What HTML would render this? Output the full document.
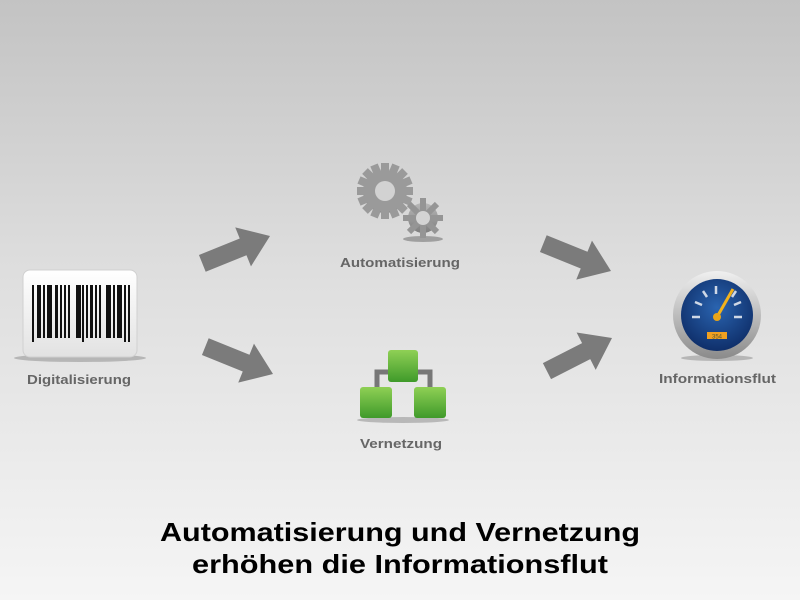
<!DOCTYPE html>
<html><head><meta charset="utf-8"><style>
html,body{margin:0;padding:0}
body{width:800px;height:600px;overflow:hidden;background:linear-gradient(#c3c3c3,#dedede 45%,#f5f5f5);font-family:"Liberation Sans",sans-serif}
</style></head><body>
<svg width="800" height="600" xmlns="http://www.w3.org/2000/svg" style="position:absolute;left:0;top:0">
<defs>
<linearGradient id="wb" x1="0" y1="0" x2="0" y2="1"><stop offset="0" stop-color="#ffffff"/><stop offset="1" stop-color="#e2e2e2"/></linearGradient>
<linearGradient id="gr" x1="0" y1="0" x2="0" y2="1"><stop offset="0" stop-color="#8fd055"/><stop offset="1" stop-color="#3f9a2a"/></linearGradient>
<linearGradient id="gear" x1="0" y1="0" x2="0" y2="1"><stop offset="0" stop-color="#b8b8b8"/><stop offset="1" stop-color="#7e7e7e"/></linearGradient>
<radialGradient id="blue" cx="0.5" cy="0.4" r="0.6"><stop offset="0" stop-color="#2a64b0"/><stop offset="1" stop-color="#0f2f6a"/></radialGradient>
<linearGradient id="rim" x1="0" y1="0" x2="0" y2="1"><stop offset="0" stop-color="#f0f0f0"/><stop offset="1" stop-color="#8a8a8a"/></linearGradient>
<polygon id="arr" points="0,-9 44,-9 44,-21 73,0 44,21 44,9 0,9" fill="#7b7b7b"/>
</defs>
<use href="#arr" transform="translate(270,236) rotate(-22) translate(-73,0)"/>
<use href="#arr" transform="translate(273,374) rotate(22) translate(-73,0)"/>
<use href="#arr" transform="translate(611,271) rotate(22) translate(-73,0)"/>
<use href="#arr" transform="translate(612,338) rotate(-27) translate(-73,0)"/>
<ellipse cx="80" cy="358" rx="66" ry="4" fill="#888" opacity="0.5"/>
<rect x="23" y="270" width="114" height="87" rx="7" fill="url(#wb)" stroke="#d0d0d0"/>
<g fill="#111">
<rect x="32" y="285" width="2" height="57"/><rect x="37" y="285" width="4" height="53"/><rect x="43" y="285" width="2" height="53"/><rect x="47" y="285" width="5" height="53"/><rect x="55" y="285" width="3" height="53"/><rect x="60" y="285" width="2" height="53"/><rect x="64" y="285" width="2" height="53"/><rect x="68" y="285" width="2" height="53"/><rect x="76" y="285" width="5" height="53"/><rect x="82" y="285" width="2" height="57"/><rect x="86" y="285" width="2" height="53"/><rect x="90" y="285" width="3" height="53"/><rect x="95" y="285" width="2" height="53"/><rect x="99" y="285" width="2" height="53"/><rect x="106" y="285" width="5" height="53"/><rect x="113" y="285" width="2" height="53"/><rect x="117" y="285" width="5" height="53"/><rect x="124" y="285" width="2" height="57"/><rect x="128" y="285" width="2" height="57"/>
</g>
<ellipse cx="423" cy="239" rx="20" ry="3" fill="#777" opacity="0.6"/>
<g fill="url(#gear)">
<circle cx="385" cy="191" r="22"/>
<g stroke="#9a9a9a" stroke-width="8">
<line x1="385" y1="163" x2="385" y2="219"/><line x1="357" y1="191" x2="413" y2="191"/>
<line x1="365" y1="171" x2="405" y2="211"/><line x1="405" y1="171" x2="365" y2="211"/>
<line x1="374" y1="165" x2="396" y2="217"/><line x1="396" y1="165" x2="374" y2="217"/>
<line x1="359" y1="180" x2="411" y2="202"/><line x1="359" y1="202" x2="411" y2="180"/>
</g>
<circle cx="423" cy="218" r="15"/>
<g stroke="#959595" stroke-width="6">
<line x1="423" y1="198" x2="423" y2="238"/><line x1="403" y1="218" x2="443" y2="218"/>
<line x1="409" y1="204" x2="437" y2="232"/><line x1="437" y1="204" x2="409" y2="232"/>
</g>
</g>
<circle cx="385" cy="191" r="10" fill="#d2d2d2"/>
<circle cx="423" cy="218" r="7" fill="#d4d4d4"/>
<path d="M377 388 V372 H430 V388" fill="none" stroke="#777" stroke-width="5"/>
<ellipse cx="403" cy="420" rx="46" ry="3" fill="#888" opacity="0.5"/>
<rect x="388" y="350" width="30" height="32" rx="3" fill="url(#gr)"/>
<rect x="360" y="387" width="32" height="31" rx="3" fill="url(#gr)"/>
<rect x="414" y="387" width="32" height="31" rx="3" fill="url(#gr)"/>
<ellipse cx="717" cy="358" rx="36" ry="3" fill="#888" opacity="0.5"/>
<circle cx="717" cy="315" r="44" fill="url(#rim)"/>
<circle cx="717" cy="315" r="36" fill="url(#blue)"/>
<g stroke="#cfd8e6" stroke-width="2.5">
<line x1="692" y1="317" x2="700" y2="317"/><line x1="695" y1="302" x2="702" y2="305"/><line x1="703" y1="291" x2="707" y2="297"/><line x1="716" y1="286" x2="716" y2="294"/><line x1="736" y1="291" x2="732" y2="297"/><line x1="741" y1="302" x2="734" y2="305"/><line x1="742" y1="317" x2="734" y2="317"/>
</g>
<line x1="717" y1="317" x2="733" y2="289" stroke="#f2b21c" stroke-width="3"/>
<circle cx="717" cy="317" r="4" fill="#e8a418"/>
<rect x="707" y="332" width="20" height="7" fill="#f0a020"/>
<text x="717" y="338.5" font-size="6" text-anchor="middle" fill="#553">354</text>
<g font-weight="bold" font-size="13" fill="#666">
<text x="27" y="384" textLength="104" lengthAdjust="spacingAndGlyphs">Digitalisierung</text>
<text x="340" y="267" textLength="120" lengthAdjust="spacingAndGlyphs">Automatisierung</text>
<text x="360" y="448" textLength="82" lengthAdjust="spacingAndGlyphs">Vernetzung</text>
<text x="659" y="383" textLength="117" lengthAdjust="spacingAndGlyphs">Informationsflut</text>
</g>
<g font-weight="bold" font-size="26" fill="#000">
<text x="160" y="541" textLength="480" lengthAdjust="spacingAndGlyphs">Automatisierung und Vernetzung</text>
<text x="192" y="573" textLength="416" lengthAdjust="spacingAndGlyphs">erhöhen die Informationsflut</text>
</g>
</svg>
</body></html>
